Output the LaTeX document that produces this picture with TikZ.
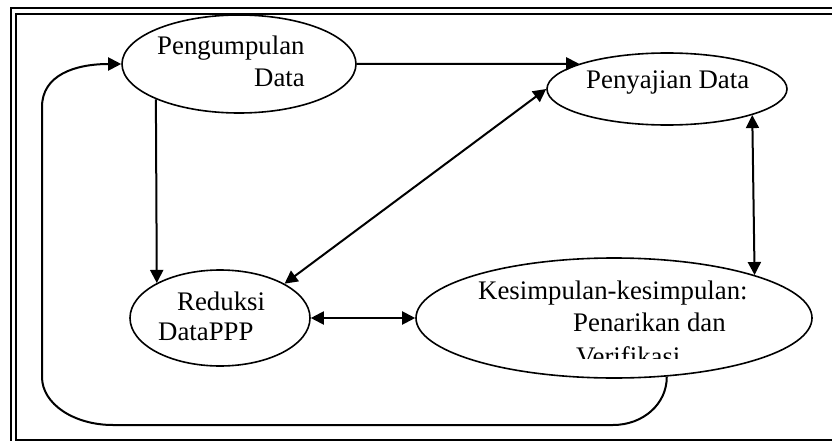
\documentclass[tikz,border=0pt]{standalone}
\usepackage{fontspec}
\setmainfont{Liberation Serif}
\usetikzlibrary{arrows.meta,shapes.geometric}

\tikzset{
  stage/.style={draw, ellipse, line width=1.6pt, inner sep=0pt},
  lbl/.style={anchor=base west, inner sep=0pt, font=\fontsize{26.8}{32}\selectfont},
  link/.style={line width=2pt, -{Triangle[length=13pt,width=13pt]}},
  twoway/.style={line width=2pt, {Triangle[length=13pt,width=13pt]}-{Triangle[length=13pt,width=13pt]}},
  frame/.style={line width=2.2pt}
}

\begin{document}
\begin{tikzpicture}[x=1pt,y=-1pt]
  \useasboundingbox (0,0) rectangle (832,441);
  \clip (0,0) rectangle (832,441);

  % double frame, open on the right and at the bottom
  \draw[frame] (11,450) -- (11,8) -- (840,8);
  \draw[frame] (840,14) -- (16,14) -- (16,440) -- (840,440);

  % the four stages
  \node[stage, minimum width=234pt, minimum height=98pt] (peng) at (239,64) {};
  \node[stage, minimum width=240pt, minimum height=72pt] (pen)  at (667,89) {};
  \node[stage, minimum width=180pt, minimum height=96pt] (red)  at (220,318) {};
  \node[stage, minimum width=396pt, minimum height=120pt] (kes) at (614,318) {};

  % stage texts
  \node[lbl] (t1a) at (157,55) {Pengumpulan};
  \node[lbl] (t1b) at (254,87) {Data};
  \node[lbl] (t2)  at (586,89) {Penyajian Data};
  \node[lbl] (t3a) at (177,310) {Reduksi};
  \node[lbl] (t3b) at (158,340) {DataPPP};
  \node[lbl] (t4a) at (478,299) {Kesimpulan-kesimpulan:};
  \node[lbl] (t4b) at (573,331) {Penarikan dan};
  \begin{scope}
    \clip (560,335) rectangle (720,358);
    \node[lbl] (t4c) at (576,365) {Verifikasi};
  \end{scope}

  % connectors
  \draw[link] (peng.east) -- (pen.164);
  \draw[link] (peng.203.1) -- (red.151.4);
  \draw[twoway] (red.28.4) -- (pen.west);
  \draw[twoway] (pen.343.4) -- (kes.17.3);
  \draw[twoway] (red.east) -- (kes.west);

  % feedback loop back to data collection
  \draw[link] (kes.312.5)
    .. controls (667,404) and (643,425) .. (613,425)
    -- (113,425)
    .. controls (74,425) and (42,404) .. (42,377)
    -- (42,107)
    .. controls (42,75) and (75,64) .. (peng.west);
\end{tikzpicture}
\end{document}
